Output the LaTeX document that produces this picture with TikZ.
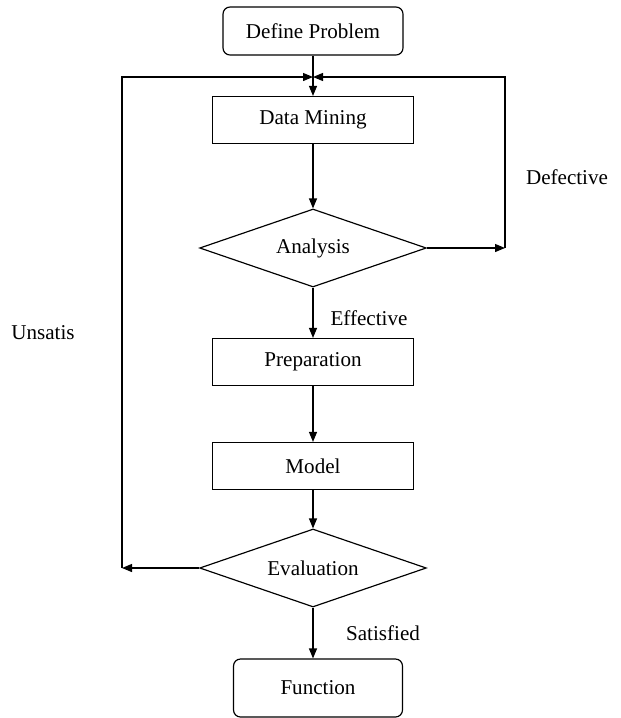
\documentclass[tikz,border=0pt]{standalone}
\usepackage{fontspec}
\setmainfont{Liberation Serif}
\usetikzlibrary{shapes,arrows.meta,positioning}

\begin{document}
\begin{tikzpicture}[x=0.03cm,y=-0.03cm,
  font=\fontsize{18}{21}\selectfont,
  line width=1pt,
  >={Triangle[length=3mm,width=2.4mm]},
  stepbox/.style={draw,minimum width=6.03cm,minimum height=1.41cm,inner sep=0pt},
  endbox/.style={draw,rounded corners=6pt,inner sep=0pt},
  choice/.style={draw,diamond,aspect=2.9,minimum width=6.8cm,minimum height=2.34cm,inner sep=0pt}]
  \useasboundingbox (0,0) rectangle (621,718);
  % main column
  \node[endbox,minimum width=5.4cm,minimum height=1.44cm] (define) at (313,31) {Define Problem};
  \coordinate (join) at (313,77);
  \node[stepbox] (mining) at (313,120) {Data Mining};
  \node[choice] (analysis) at (313,248) {Analysis};
  \node[stepbox] (preparation) at (313,362) {Preparation};
  \node[stepbox] (model) at (313,466) {Model};
  \node[choice] (evaluation) at (313,568) {Evaluation};
  \node[endbox,minimum width=5.07cm,minimum height=1.74cm] (function) at (318,688) {Function};
  % loop corners
  \coordinate (rightturn) at (505,248);
  \coordinate (leftturn) at (122,568);
  % labels
  \node (defective) at (567,177) {Defective};
  \node (effective) at (369,318) {Effective};
  \node (unsatis) at (43,333) {Unsatis};
  \node (satisfied) at (383,633) {Satisfied};
  % connectors
  \draw[->] (define) -- (mining);
  \draw[->] (mining) -- (analysis);
  \draw[->] (analysis) -- (preparation);
  \draw[->] (preparation) -- (model);
  \draw[->] (model) -- (evaluation);
  \draw[->] (evaluation.south) -- (evaluation.south |- function.north);
  \draw[->] (analysis.east) -- (rightturn);
  \draw[->] (rightturn) |- (join);
  \draw[->] (evaluation.west) -- (leftturn);
  \draw[->] (leftturn) |- (join);
\end{tikzpicture}
\end{document}
